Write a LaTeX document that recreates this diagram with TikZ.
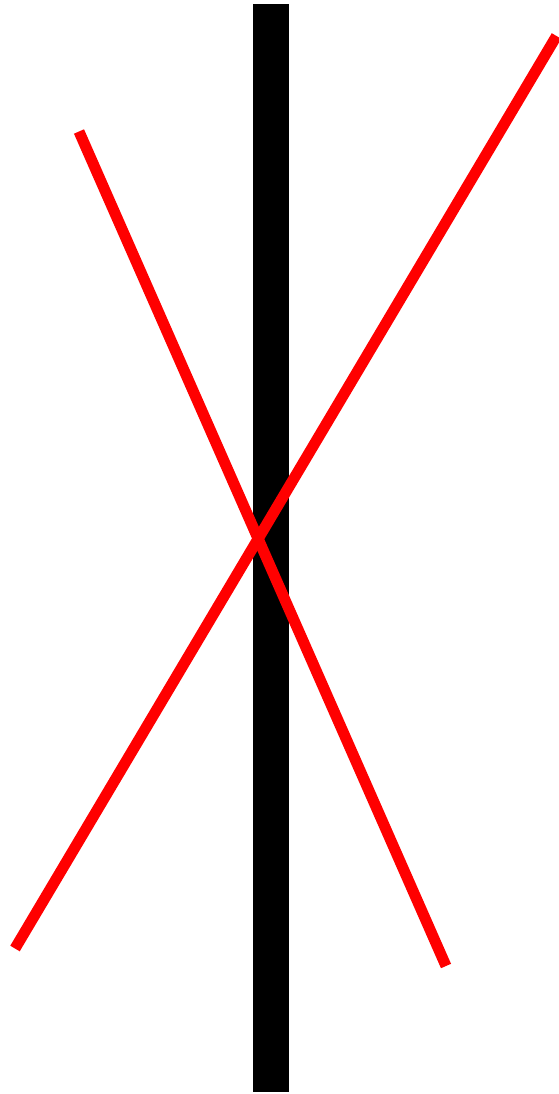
\documentclass[tikz,border=0pt]{standalone}
\begin{document}
\begin{tikzpicture}[x=1pt,y=-1pt,
  redline/.style={draw=red,line width=11pt,line cap=butt}]
\useasboundingbox (0,0) rectangle (558,1094);
\fill[black] (253,4) rectangle (289,1092);
\coordinate (a1) at (79,131.5);
\coordinate (a2) at (446,966);
\coordinate (b1) at (15,948.5);
\coordinate (b2) at (556.5,36);
\draw[redline] (a1) -- (a2);
\draw[redline] (b1) -- (b2);
\end{tikzpicture}
\end{document}
